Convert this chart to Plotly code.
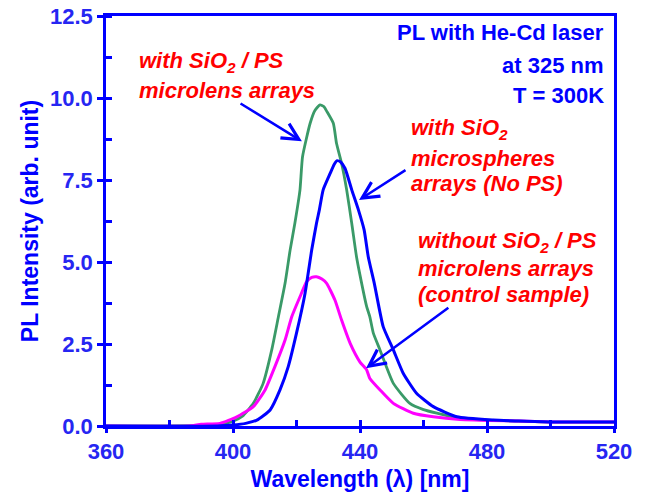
import plotly.graph_objects as go

# ---------------- data ----------------
wl_green = [360, 390, 396, 400, 403, 406.4, 409.5, 412.2, 414.3, 416.4, 418, 419.5, 421.1,
            421.9, 424.3, 425.8, 427.4, 428.6, 429.5, 431.6, 432.6, 434.2, 435.8, 437.4, 438.9, 440,
            442.1, 443.1, 444.2, 446.3, 450.5, 455.7, 460, 464.2, 471.5, 480, 490, 500, 510, 520]
pl_green = [0, 0.02, 0.06, 0.15, 0.3, 0.69, 1.30, 2.32, 3.33, 4.35, 5.37, 6.19, 7.2,
            8.21, 9.23, 9.62, 9.79, 9.74, 9.6, 9.23, 8.62, 8.01, 7.2, 6.18, 5.16, 4.6,
            3.64, 3.33, 2.83, 2.32, 1.30, 0.69, 0.5, 0.39, 0.23, 0.18, 0.15, 0.12, 0.12, 0.12]

wl_blue = [360, 395, 400, 404, 407.5, 411.7, 414.8, 417.4, 420, 422.7, 424.8, 426.3, 427.2,
           428.4, 430.6, 431.9, 432.8, 433.9, 435.3, 437.4, 439.5, 441.3, 442.6, 444.5, 447.3, 450.5,
           453.6, 457.8, 463.1, 470.5, 482, 490, 500, 510, 520]
pl_blue = [0, 0, 0.03, 0.08, 0.18, 0.49, 1.10, 1.81, 2.83, 4.05, 5.37, 6.18, 6.59,
           7.2, 7.70, 7.98, 8.09, 8.05, 7.85, 7.2, 6.59, 5.98, 5.16, 4.35, 3.03, 2.32,
           1.61, 1.0, 0.59, 0.28, 0.18, 0.15, 0.12, 0.12, 0.12]

wl_magenta = [360, 386, 390, 395.9, 401.2, 406.4, 410.1, 413.2, 416.4, 418.5, 421.1, 423.2,
              424.8, 426.3, 428, 429.5, 432.1, 434.2, 436.9, 440, 442.1, 443.1, 446.3, 450.5, 456.8,
              463.1, 471.5, 490, 500, 520]
pl_magenta = [0, 0, 0.05, 0.08, 0.28, 0.59, 1.10, 1.81, 2.62, 3.33, 3.94, 4.40,
              4.53, 4.55, 4.48, 4.35, 3.84, 3.23, 2.52, 1.95, 1.71, 1.45, 1.10, 0.69, 0.39,
              0.28, 0.2, 0.15, 0.12, 0.12]

x_range = [360, 520]
y_range = [0, 12.5]
x_ticks = [360, 400, 440, 480, 520]
y_ticks = [0, 2.5, 5, 7.5, 10, 12.5]

BLUE = "#0000FF"
TXT_BLUE = "#2626F2"
RED = "#FF0000"
FONT = "Liberation Sans"

fig = go.Figure()
line_common = dict(shape="spline", smoothing=0.5)
fig.add_trace(go.Scatter(x=wl_green, y=pl_green, mode="lines",
                         line=dict(color="#3A9A68", width=2.8, **line_common)))
fig.add_trace(go.Scatter(x=wl_magenta, y=pl_magenta, mode="lines",
                         line=dict(color="#FF00FF", width=3, **line_common)))
fig.add_trace(go.Scatter(x=wl_blue, y=pl_blue, mode="lines",
                         line=dict(color=BLUE, width=3, **line_common)))
# empty trace on overlay axes (for the other half of the crossing major ticks)
fig.add_trace(go.Scatter(x=[], y=[], xaxis="x2", yaxis="y2", showlegend=False))

tickfont = dict(family=FONT, size=22, color=TXT_BLUE, weight="bold")
titlefont = dict(family=FONT, size=23, color=BLUE, weight="bold")

fig.update_layout(
    width=651, height=498,
    margin=dict(l=106, r=37, t=16, b=72),
    paper_bgcolor="white", plot_bgcolor="white",
    showlegend=False,
    xaxis=dict(range=x_range, tickvals=x_ticks, showgrid=False, zeroline=False,
               automargin=False,
               showline=True, linecolor=BLUE, linewidth=2.5, mirror=True,
               ticks="inside", ticklen=6, tickwidth=2.5, tickcolor=BLUE,
               tickfont=tickfont, ticklabelstandoff=4,
               minor=dict(ticks="inside", dtick=20, tick0=360, ticklen=6,
                          tickwidth=2.5, tickcolor=BLUE, showgrid=False),
               title=dict(text="Wavelength (λ) [nm]", font=titlefont, standoff=8)),
    yaxis=dict(range=y_range, tickvals=y_ticks, tickformat=".1f", showgrid=False,
               zeroline=False, automargin=False, ticklabeloverflow="allow",
               showline=True, linecolor=BLUE, linewidth=2.5, mirror=True,
               ticks="outside", ticklen=6, tickwidth=2.5, tickcolor=BLUE,
               tickfont=tickfont,
               minor=dict(ticks="inside", dtick=1.25, tick0=0, ticklen=6,
                          tickwidth=2.5, tickcolor=BLUE, showgrid=False),
               title=dict(text="PL Intensity (arb. unit)", font=titlefont, standoff=5)),
    xaxis2=dict(range=x_range, tickvals=x_ticks, overlaying="x", anchor="y", side="bottom",
                showgrid=False, zeroline=False, showline=False, showticklabels=False,
                automargin=False,
                ticks="outside", ticklen=6, tickwidth=2.5, tickcolor=BLUE),
    yaxis2=dict(range=y_range, tickvals=y_ticks, overlaying="y", anchor="x", side="left",
                showgrid=False, zeroline=False, showline=False, showticklabels=False,
                automargin=False,
                ticks="inside", ticklen=6, tickwidth=2.5, tickcolor=BLUE),
)

redfont = dict(family=FONT, size=22, color=RED, weight="bold", style="italic")
bluefont = dict(family=FONT, size=22, color=BLUE, weight="bold")

# blue info text (right aligned)
for txt, yy in [("PL with He-Cd laser", 12.0), ("at 325 nm", 10.98), ("T = 300K", 10.07)]:
    fig.add_annotation(x=517.6, y=yy, xref="x", yref="y", text=txt, showarrow=False,
                       xanchor="right", yanchor="middle", font=bluefont)

# red labels
labels = [
    (369.8, [("with SiO<sub>2</sub> / PS", 11.1), ("microlens arrays", 10.22)]),
    (455.4, [("with SiO<sub>2</sub>", 9.05), ("microspheres", 8.17), ("arrays (No PS)", 7.38)]),
    (457.6, [("without SiO<sub>2</sub> / PS", 5.62), ("microlens arrays", 4.81),
             ("(control sample)", 4.0)]),
]
for xx, lines in labels:
    for txt, yy in lines:
        fig.add_annotation(x=xx, y=yy, xref="x", yref="y", text=txt, showarrow=False,
                           xanchor="left", yanchor="middle", font=redfont)

# arrows (tail -> head), in data coordinates
arrows = [((401.9, 9.86), (421.7, 8.68)),
          ((454.8, 7.83), (439.7, 6.89)),
          ((468.3, 3.64), (441.9, 1.76))]
for (tx, ty), (hx, hy) in arrows:
    fig.add_annotation(x=hx, y=hy, ax=tx, ay=ty, xref="x", yref="y", axref="x", ayref="y",
                       text="", showarrow=True, arrowhead=5, arrowsize=1.3,
                       arrowwidth=2.5, arrowcolor=BLUE)

# remove the browser's default 8 px body margin so the figure fills the window
fig.write_html("out.html", config={"displayModeBar": False},
               post_script="document.body.style.margin='0';")
